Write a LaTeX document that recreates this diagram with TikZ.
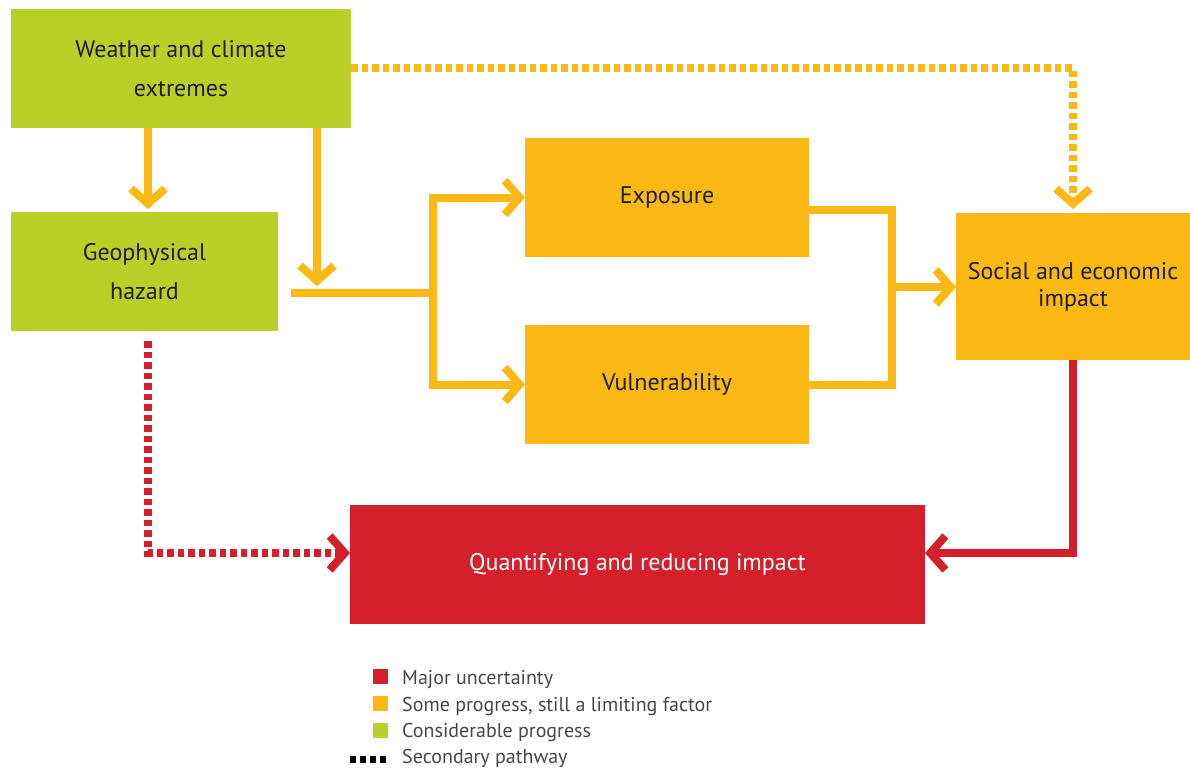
\documentclass[tikz,border=0pt]{standalone}
\usepackage{fontspec}
\setmainfont{PT Sans}
\usetikzlibrary{arrows.meta}
\definecolor{cgreen}{RGB}{187,207,41}
\definecolor{cyellow}{RGB}{252,185,21}
\definecolor{cred}{RGB}{211,32,42}
\definecolor{ctext}{RGB}{30,30,30}
\definecolor{clegend}{RGB}{70,70,70}
\begin{document}
\begin{tikzpicture}[x=1pt,y=-1pt,
  base/.style={inner sep=0pt, outer sep=0pt, align=center, text=ctext,
    font=\fontsize{24}{39}\selectfont},
  gbox/.style={base, fill=cgreen},
  ybox/.style={base, fill=cyellow},
  rbox/.style={base, fill=cred, text=white},
  yconn/.style={line width=8pt, draw=cyellow},
  rconn/.style={line width=8pt, draw=cred},
  secondary/.style={dash pattern=on 6.5pt off 4pt},
  tip/.style={-{Straight Barb[length=15pt, width=34pt]}},
  legsq/.style={inner sep=0pt, minimum size=15pt},
  legtxt/.style={anchor=base west, inner sep=0pt, text=clegend,
    font=\fontsize{20}{22}\selectfont}
]
\useasboundingbox (0,0) rectangle (1190,770);

% boxes
\node[gbox, minimum width=340pt, minimum height=119pt] (wx) at (181,68.5)
  {Weather and climate\\extremes};
\node[gbox, minimum width=267pt, minimum height=119pt] (gh) at (144.5,271.5)
  {Geophysical\\hazard};
\node[ybox, minimum width=284pt, minimum height=119pt] (ex) at (667,197.5)
  {Exposure};
\node[ybox, minimum width=284pt, minimum height=119pt] (vu) at (667,384.5)
  {Vulnerability};
\node[ybox, minimum width=234pt, minimum height=147pt,
  font=\fontsize{24}{27}\selectfont] (se) at (1073,286.5)
  {Social and economic\\impact};
\node[rbox, minimum width=575pt, minimum height=119pt] (qi) at (637.5,564.5)
  {Quantifying and reducing impact};

% helper coordinates
\coordinate (x148) at (148,0);
\coordinate (t2) at (317,286);
\coordinate (hs) at (291,293);
\coordinate (hj) at (433,293);
\coordinate (y210) at (0,210);
\coordinate (mg) at (892,287);
\coordinate (y553) at (0,553);

% connectors
\draw[yconn, tip, shorten >=3pt] (wx.south -| x148) -- (gh.north -| x148);
\draw[yconn, tip] (wx.south -| t2) -- (t2);
\draw[yconn] (hs) -- (hj);
\draw[yconn, tip] (hj) |- (ex.west);
\draw[yconn, tip] (hj) |- (vu.west);
\draw[yconn] (ex.east |- y210) -| (mg) |- (vu.east);
\draw[yconn, tip] (mg) -- (se.west |- mg);
\draw[yconn, secondary, tip, shorten >=4pt] (wx.east) -| (se.north);
\draw[rconn, secondary, tip, shorten <=10pt] (gh.south -| x148) |- (qi.west |- y553);
\draw[rconn, tip] (se.south) |- (qi.east |- y553);

% legend
\node[legsq, fill=cred] (l1) at (380,676) {};
\node[legsq, fill=cyellow] (l2) at (380,703) {};
\node[legsq, fill=cgreen] (l3) at (380,730) {};
\draw[line width=7pt, dash pattern=on 6pt off 4pt] (350,759.5) -- (390,759.5);
\node[legtxt] (t1) at (402,684) {Major uncertainty};
\node[legtxt] (t2) at (402,711) {Some progress, still a limiting factor};
\node[legtxt] (t3) at (402,737) {Considerable progress};
\node[legtxt] (t4) at (402,763) {Secondary pathway};
\end{tikzpicture}
\end{document}
